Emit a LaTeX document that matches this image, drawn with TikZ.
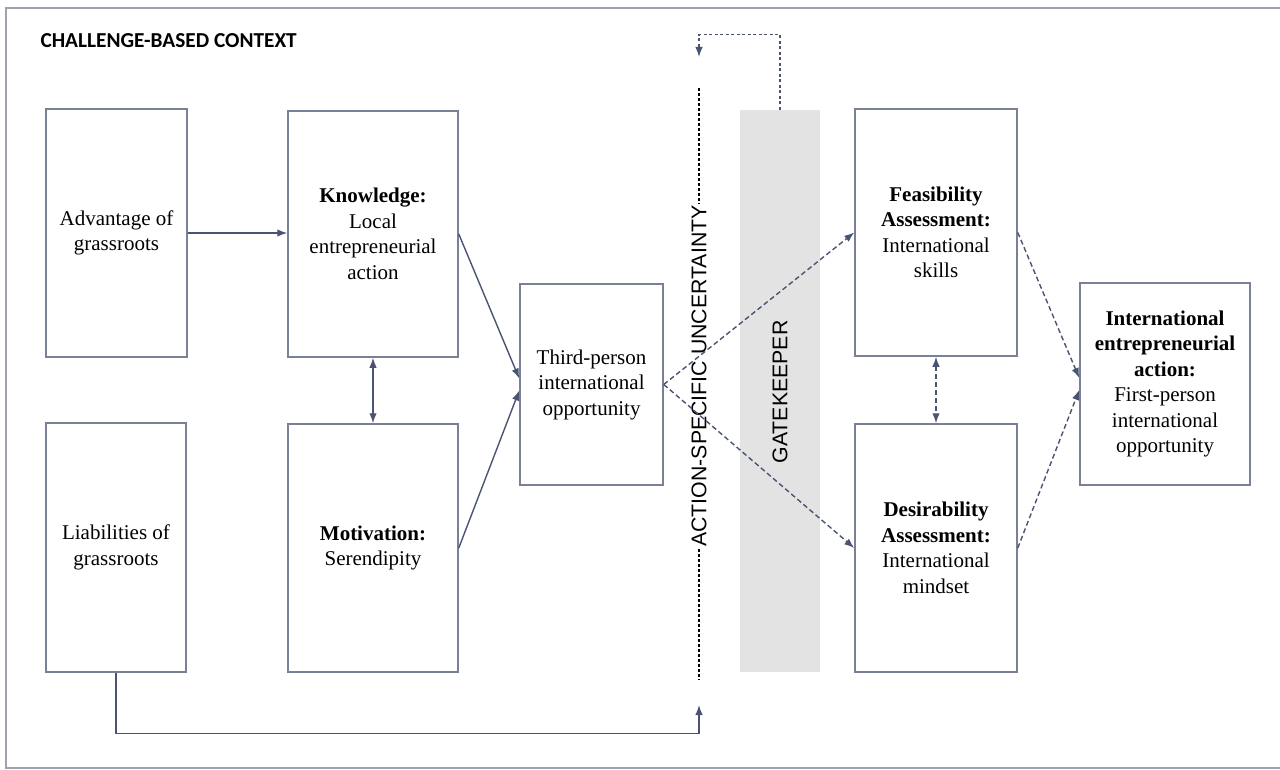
\documentclass[tikz,border=0pt]{standalone}
\usepackage{fontspec}
\setmainfont{Liberation Serif}
\newfontfamily\headfont{Carlito}
\newfontfamily\bandfont{Liberation Sans}
\usetikzlibrary{arrows.meta}

\definecolor{boxcol}{HTML}{7A8096}
\definecolor{edgecol}{HTML}{4A5472}
\definecolor{gatecol}{HTML}{E3E3E3}
\definecolor{framecol}{HTML}{9DA3AD}

% text set a little above the middle of its box
\newcommand{\liftlines}[1]{\raisebox{14pt}{\begin{tabular}{@{}c@{}}#1\end{tabular}}}

\tikzset{
  box/.style={draw=boxcol, line width=1.5pt, inner sep=0pt, align=center,
    font=\fontsize{21}{25.5}\selectfont},
  band/.style={rotate=90, font=\bandfont\fontsize{21.3}{25}\selectfont},
  edge/.style={draw=edgecol, line width=1.4pt, ->},
  dashedge/.style={edge, dash pattern=on 5pt off 3pt},
}

\begin{document}
\begin{tikzpicture}[x=1pt,y=-1pt,>={Latex[length=10pt,width=7.5pt]}]
\useasboundingbox (0,0) rectangle (1280,770);

% Frame and heading
\draw [framecol, line width=2pt] (1280,8) -- (6,8) -- (6,768) -- (1280,768);
\node [anchor=west, font=\headfont\bfseries\fontsize{21.3}{24}\selectfont] (ctx) at (37,41) {CHALLENGE-BASED CONTEXT};

% Node: gate
\node [fill=gatecol, minimum width=80pt, minimum height=562pt, inner sep=0pt] (gate) at (780,391) {};
\node [band] (gatetxt) at (780,392) {GATEKEEPER};

% Node: unc
\coordinate (uncline1) at (699,88);
\coordinate (uncline2) at (699,680);
\coordinate (unctop) at (699,57);
\coordinate (uncbot) at (699,705);
\node [band, inner xsep=2pt] (unc) at (699,376) {ACTION-SPECIFIC UNCERTAINTY};
\draw [black, line width=2.6pt, dash pattern=on 3.5pt off 1.5pt] (uncline1) -- (unc.east);
\draw [black, line width=2.6pt, dash pattern=on 3.5pt off 1.5pt] (unc.west) -- (uncline2);

% Nodes: left column
\node [box, minimum width=141pt, minimum height=248pt] (adv) at (116.5,233) {\liftlines{Advantage of\\grassroots}};
\node [box, minimum width=140pt, minimum height=249pt] (liab) at (116,547.5) {\liftlines{Liabilities of\\grassroots}};

% Nodes: second column
\node [box, minimum width=170pt, minimum height=246pt] (know) at (373,234) {\textbf{Knowledge:}\\Local\\entrepreneurial\\action};
\node [box, minimum width=170pt, minimum height=248pt] (motiv) at (373,548) {\liftlines{\textbf{Motivation:}\\Serendipity}};

% Node: third
\node [box, minimum width=143pt, minimum height=201pt] (third) at (591.5,384.5) {Third-person\\international\\opportunity};

% Nodes: assessments
\node [box, minimum width=162pt, minimum height=247pt] (feas) at (936,232.5) {\textbf{Feasibility}\\\textbf{Assessment:}\\International\\skills};
\node [box, minimum width=162pt, minimum height=248pt] (desir) at (936,548) {\textbf{Desirability}\\\textbf{Assessment:}\\International\\mindset};

% Node: intl
\node [box, minimum width=170pt, minimum height=202pt] (intl) at (1165,384) {\textbf{International}\\\textbf{entrepreneurial}\\\textbf{action:}\\First-person\\international\\opportunity};

% Edges
\draw [edge] (adv.east) -- (adv.east -| know.west);
\draw [edge, <->] (know.south) -- (motiv.north);
\draw [edge] (know.east) -- ([yshift=6pt]third.west);
\draw [edge] (motiv.east) -- ([yshift=-6pt]third.west);
\draw [dashedge] (third.east) -- (feas.west);
\draw [dashedge] (third.east) -- (desir.west);
\draw [dashedge, <->] (feas.south) -- (desir.north);
\draw [dashedge] (feas.east) -- ([yshift=6pt]intl.west);
\draw [dashedge] (desir.east) -- ([yshift=-6pt]intl.west);

% Edge: liab -> unc (bottom loop)
\draw [edge] (liab.south) -- ++(0,61) -| (uncbot);

% Edge: gate -> unc (feedback over the top)
\draw [dashedge, dash pattern=on 3pt off 2.5pt] (gate.north) -- ++(0,-75) -| (unctop);
%
\end{tikzpicture}
\end{document}
